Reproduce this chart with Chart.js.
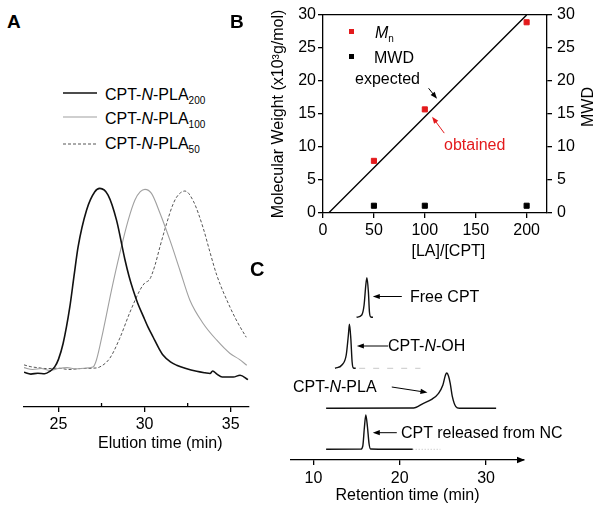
<!DOCTYPE html>
<html>
<head>
<meta charset="utf-8">
<script src="https://cdn.jsdelivr.net/npm/chart.js"></script>
<style>
  body { margin: 0; background: #fff; }
  #fig { position: relative; width: 600px; height: 507px; overflow: hidden; font-family: 'Liberation Sans', Arial, sans-serif; color: #000; }
  #fig canvas { position: absolute; }
  .t { position: absolute; font-size: 16px; line-height: 16px; white-space: nowrap; }
  .t sub { font-size: 10px; vertical-align: -4px; line-height: 0; }
  .lbl { position: absolute; font-weight: bold; line-height: 1; }
</style>
</head>
<body>
<div id="fig">
  <canvas id="chartA" width="260" height="300" style="left:0;top:160px"></canvas>
  <canvas id="chartB" width="345" height="260" style="left:255px;top:0"></canvas>
  <canvas id="chartC" width="260" height="247" style="left:285px;top:260px"></canvas>

  <div class="lbl" style="left:7px;top:12px;font-size:19px">A</div>
  <div class="lbl" style="left:230px;top:12px;font-size:19px">B</div>
  <div class="lbl" style="left:250px;top:259px;font-size:20px">C</div>

  <svg style="position:absolute;left:0;top:0" width="110" height="160">
    <line x1="63" y1="93" x2="97" y2="93" stroke="#111" stroke-width="1.5"/>
    <line x1="63" y1="117" x2="97" y2="117" stroke="#a0a0a0" stroke-width="1.1"/>
    <line x1="63" y1="144" x2="97" y2="144" stroke="#555" stroke-width="1" stroke-dasharray="3,2"/>
  </svg>
  <div class="t" style="left:105px;top:86.5px">CPT-<i>N</i>-PLA<sub>200</sub></div>
  <div class="t" style="left:105px;top:110.5px">CPT-<i>N</i>-PLA<sub>100</sub></div>
  <div class="t" style="left:105px;top:135.5px">CPT-<i>N</i>-PLA<sub>50</sub></div>
  <div class="t" style="left:98px;top:435px">Elution time (min)</div>

  <div style="position:absolute;left:348.5px;top:28.5px;width:5px;height:5px;background:#e31a1c"></div>
  <div style="position:absolute;left:348.5px;top:53.5px;width:5px;height:5px;background:#000"></div>
  <div class="t" style="left:375px;top:24.5px"><i>M</i><sub>n</sub></div>
  <div class="t" style="left:374px;top:49.5px">MWD</div>
  <div class="t" style="left:355px;top:70.5px">expected</div>
  <div class="t" style="left:444px;top:136.5px;color:#e31a1c">obtained</div>
  <div class="t" style="left:411.5px;top:243px">[LA]/[CPT]</div>
  <div class="t" style="left:588px;top:107px;transform:translate(-50%,-50%) rotate(-90deg)">MWD</div>

  <div class="t" style="left:410px;top:289px">Free CPT</div>
  <div class="t" style="left:388px;top:338px">CPT-<i>N</i>-OH</div>
  <div class="t" style="left:293px;top:379px">CPT-<i>N</i>-PLA</div>
  <div class="t" style="left:401px;top:425px">CPT released from NC</div>
</div>

<script>
// panel A: GPC traces (elution time in min, normalised intensity)
const blackT = [23.0, 23.4, 23.8, 24.2, 24.5, 24.78, 25.0, 25.27, 25.66, 25.9, 26.14, 26.63, 27.11, 27.4, 27.88, 28.37, 28.85, 29.1, 29.34, 29.6, 29.92, 30.2, 30.5, 30.8, 31.08, 31.5, 31.86, 32.4, 33.02, 33.5, 33.8, 33.95, 34.2, 34.5, 35.15, 35.54, 36.0];
const blackI = [0.0, -0.01, -0.005, -0.008, 0.005, 0.029, 0.07, 0.156, 0.355, 0.52, 0.681, 0.88, 0.98, 0.998, 0.962, 0.826, 0.615, 0.52, 0.445, 0.375, 0.305, 0.245, 0.19, 0.135, 0.092, 0.056, 0.038, 0.02, 0.005, -0.003, -0.007, 0.007, -0.01, -0.026, -0.026, -0.016, -0.04];
const grayT = [23.0, 23.5, 24.0, 24.5, 25.0, 25.5, 26.0, 26.5, 27.0, 27.2, 27.6, 28.08, 28.56, 29.05, 29.44, 29.75, 30.02, 30.4, 30.9, 31.47, 32.05, 32.63, 33.4, 34.19, 34.96, 35.5, 35.93];
const grayI = [0.025, 0.015, 0.02, 0.01, 0.02, 0.025, 0.018, 0.022, 0.028, 0.065, 0.228, 0.446, 0.645, 0.826, 0.935, 0.98, 0.993, 0.971, 0.862, 0.717, 0.554, 0.391, 0.265, 0.174, 0.102, 0.07, 0.038];
const dashT = [23.0, 23.4, 23.8, 24.3, 25.0, 25.6, 26.3, 27.0, 27.4, 27.98, 28.56, 29.15, 29.73, 30.0, 30.3, 30.6, 30.89, 31.28, 31.6, 31.86, 32.34, 32.83, 33.4, 33.8, 34.19, 34.96, 35.4, 35.9];
const dashI = [0.04, 0.03, 0.025, 0.02, 0.022, 0.015, 0.02, 0.022, 0.029, 0.076, 0.185, 0.326, 0.446, 0.484, 0.505, 0.58, 0.681, 0.808, 0.9, 0.951, 0.984, 0.929, 0.783, 0.65, 0.527, 0.353, 0.27, 0.19];
const aTicks = [25, 30, 35];
const aMinorTicks = [27.5, 32.5];

// panel B: molecular weight vs feed ratio
const ratioLA = [50, 100, 200];
const mnValues = [7.9, 15.7, 28.9];
const mwdValues = [1.1, 1.1, 1.1];
const expectedX = [5.5, 200];
const expectedY = [0, 30];
const bXTicks = [0, 50, 100, 150, 200];
const bYTicks = [0, 5, 10, 15, 20, 25, 30];

// panel C: HPLC traces (retention time in min, stacked signal)
const freeT = [15.0, 15.6, 15.87, 16.07, 16.2, 16.37, 16.49, 16.65, 16.9];
const freeV = [142.7, 145, 155, 175, 182.3, 168, 148, 143, 142.7];
const ohT = [12.5, 13.3, 13.8, 14.05, 14.17, 14.33, 14.48, 14.63, 14.9];
const ohV = [91.7, 95, 105, 125, 135.7, 121.7, 98.3, 92, 91.7];
const ohTailT = [15.3, 22.4];
const ohTailV = [91.7, 91.7];
const plaT = [11.47, 21.6, 22.75, 23.7, 24.5, 25.0, 25.3, 25.46, 25.65, 25.85, 26.1, 26.5, 26.9, 31.17];
const plaV = [51.7, 52, 56.7, 60.7, 66.7, 75, 85, 87, 84, 76.7, 63.3, 53.3, 51.7, 51.7];
const relT = [11.47, 15.5, 15.72, 15.91, 16.07, 16.26, 16.45, 16.62, 21.5];
const relV = [10.7, 10.9, 14, 33, 45, 33, 16, 11, 10.7];
const relTailT = [21.5, 24.7];
const relTailV = [10.7, 10.7];
const cTicks = [10, 20, 30];

const toXY = (xs, ys) => xs.map((x, i) => ({ x: x, y: ys[i] }));

Chart.defaults.font.family = "'Liberation Sans', Arial, sans-serif";
Chart.defaults.font.size = 16;
Chart.defaults.color = '#000';

function drawArrow(ctx, x1, y1, x2, y2, color) {
  const ang = Math.atan2(y2 - y1, x2 - x1);
  const hl = 7, hw = 2.6;
  ctx.strokeStyle = color;
  ctx.fillStyle = color;
  ctx.lineWidth = 1;
  ctx.beginPath();
  ctx.moveTo(x1, y1);
  ctx.lineTo(x2 - hl * 0.6 * Math.cos(ang), y2 - hl * 0.6 * Math.sin(ang));
  ctx.stroke();
  ctx.beginPath();
  ctx.moveTo(x2, y2);
  ctx.lineTo(x2 - hl * Math.cos(ang) + hw * Math.sin(ang), y2 - hl * Math.sin(ang) - hw * Math.cos(ang));
  ctx.lineTo(x2 - hl * Math.cos(ang) - hw * Math.sin(ang), y2 - hl * Math.sin(ang) + hw * Math.cos(ang));
  ctx.closePath();
  ctx.fill();
}

// minor ticks, annotation arrows and the axis arrow head
const extras = {
  id: 'extras',
  afterDraw(chart, args, opts) {
    const ctx = chart.ctx;
    const xs = chart.scales.x;
    const ys = chart.scales.y;
    ctx.save();
    (opts.minor || []).forEach(v => {
      const px = xs.getPixelForValue(v);
      ctx.strokeStyle = '#000';
      ctx.lineWidth = 1.3;
      ctx.beginPath();
      ctx.moveTo(px, xs.top);
      ctx.lineTo(px, xs.top - 4);
      ctx.stroke();
    });
    (opts.arrows || []).forEach(a => {
      drawArrow(ctx, xs.getPixelForValue(a.from[0]), ys.getPixelForValue(a.from[1]),
        xs.getPixelForValue(a.to[0]), ys.getPixelForValue(a.to[1]), a.color);
    });
    if (opts.axisArrow) {
      const area = chart.chartArea;
      ctx.fillStyle = '#000';
      ctx.beginPath();
      ctx.moveTo(area.right + 1, area.bottom);
      ctx.lineTo(area.right - 7, area.bottom - 3.2);
      ctx.lineTo(area.right - 7, area.bottom + 3.2);
      ctx.closePath();
      ctx.fill();
    }
    ctx.restore();
  }
};

const axisLine = { display: true, color: '#000', width: 1.3 };
const tickMarks = { drawOnChartArea: false, drawTicks: true, tickLength: 5, color: '#000', lineWidth: 1.3 };

new Chart(document.getElementById('chartA'), {
  type: 'line',
  data: {
    datasets: [
      { data: toXY(blackT, blackI), borderColor: '#111', borderWidth: 1.6 },
      { data: toXY(grayT, grayI), borderColor: '#a0a0a0', borderWidth: 1.1 },
      { data: toXY(dashT, dashI), borderColor: '#555', borderWidth: 1, borderDash: [3, 2] }
    ]
  },
  options: {
    responsive: false, animation: false, devicePixelRatio: 1,
    layout: { padding: { left: 24, right: 11, top: 10, bottom: 0 } },
    elements: { point: { radius: 0 }, line: { tension: 0.3, cubicInterpolationMode: 'monotone' } },
    plugins: { legend: { display: false }, tooltip: { enabled: false }, extras: { minor: aMinorTicks } },
    scales: {
      x: {
        type: 'linear', min: 23, max: 36.06,
        afterBuildTicks: s => { s.ticks = aTicks.map(v => ({ value: v })); },
        ticks: { padding: 3, maxRotation: 0, autoSkip: false },
        grid: tickMarks, border: axisLine,
        afterFit: s => { s.height = 53; }
      },
      y: { display: false, min: -0.1886, max: 1.098 }
    }
  },
  plugins: [extras]
});

new Chart(document.getElementById('chartB'), {
  type: 'scatter',
  data: {
    datasets: [
      { data: toXY(ratioLA, mnValues), backgroundColor: '#e31a1c', borderColor: '#e31a1c', pointStyle: 'rect', pointRadius: 3.6, yAxisID: 'y', order: 1 },
      { data: toXY(ratioLA, mwdValues), backgroundColor: '#000', borderColor: '#000', pointStyle: 'rect', pointRadius: 3.6, yAxisID: 'y2', order: 1 },
      { data: toXY(expectedX, expectedY), showLine: true, borderColor: '#000', borderWidth: 1.4, pointRadius: 0, yAxisID: 'y', order: 2 }
    ]
  },
  options: {
    responsive: false, animation: false, devicePixelRatio: 1,
    layout: { padding: { left: 0, right: 0, top: 15, bottom: 0 } },
    plugins: {
      legend: { display: false }, tooltip: { enabled: false },
      extras: {
        arrows: [
          { from: [103.7, 18.9], to: [112, 17.3], color: '#000' },
          { from: [119.1, 12.1], to: [107.1, 14.6], color: '#e31a1c' }
        ]
      }
    },
    scales: {
      x: {
        type: 'linear', position: 'bottom', min: 0, max: 220,
        afterBuildTicks: s => { s.ticks = bXTicks.map(v => ({ value: v })); },
        ticks: { padding: 3, maxRotation: 0, autoSkip: false },
        grid: tickMarks, border: axisLine,
        afterFit: s => { s.height = 47; }
      },
      xTop: {
        type: 'linear', position: 'top', min: 0, max: 220,
        ticks: { display: false }, grid: { display: false, drawTicks: false }, border: axisLine,
        afterFit: s => { s.height = 0; }
      },
      y: {
        position: 'left', min: 0, max: 30,
        afterBuildTicks: s => { s.ticks = bYTicks.map(v => ({ value: v })); },
        ticks: { padding: 2, autoSkip: false },
        title: { display: true, text: 'Molecular Weight (x10³g/mol)', padding: { top: 14, bottom: 0 } },
        grid: tickMarks, border: axisLine,
        afterFit: s => { s.width = 68; }
      },
      y2: {
        position: 'right', min: 0, max: 30,
        afterBuildTicks: s => { s.ticks = bYTicks.map(v => ({ value: v })); },
        ticks: { padding: 5, autoSkip: false },
        grid: tickMarks, border: axisLine,
        afterFit: s => { s.width = 53; }
      }
    }
  },
  plugins: [extras]
});

new Chart(document.getElementById('chartC'), {
  type: 'line',
  data: {
    datasets: [
      { data: toXY(freeT, freeV), borderColor: '#111', borderWidth: 1.4 },
      { data: toXY(ohT, ohV), borderColor: '#111', borderWidth: 1.4 },
      { data: toXY(ohTailT, ohTailV), borderColor: '#c8c8c8', borderWidth: 1, borderDash: [6, 8] },
      { data: toXY(plaT, plaV), borderColor: '#111', borderWidth: 1.4 },
      { data: toXY(relT, relV), borderColor: '#111', borderWidth: 1.4 },
      { data: toXY(relTailT, relTailV), borderColor: '#bbb', borderWidth: 1, borderDash: [1, 2] }
    ]
  },
  options: {
    responsive: false, animation: false, devicePixelRatio: 1,
    layout: { padding: { left: 6, right: 21, top: 5, bottom: 0 } },
    elements: { point: { radius: 0 }, line: { tension: 0.3, cubicInterpolationMode: 'monotone' } },
    plugins: {
      legend: { display: false }, tooltip: { enabled: false },
      extras: {
        axisArrow: true,
        arrows: [
          { from: [20.24, 163.5], to: [16.88, 163.5], color: '#000' },
          { from: [18.66, 114], to: [15.03, 114], color: '#000' },
          { from: [19.08, 73], to: [23.21, 67.5], color: '#000' },
          { from: [19.66, 27.3], to: [16.88, 27.3], color: '#000' }
        ]
      }
    },
    scales: {
      x: {
        type: 'linear', min: 7.4, max: 34.4,
        afterBuildTicks: s => { s.ticks = cTicks.map(v => ({ value: v })); },
        ticks: { padding: 4, maxRotation: 0, autoSkip: false },
        title: { display: true, text: 'Retention time (min)', padding: { top: 0, bottom: 2 } },
        grid: tickMarks, border: axisLine,
        afterFit: s => { s.height = 47; }
      },
      y: { display: false, min: 0, max: 195 }
    }
  },
  plugins: [extras]
});
</script>
</body>
</html>
